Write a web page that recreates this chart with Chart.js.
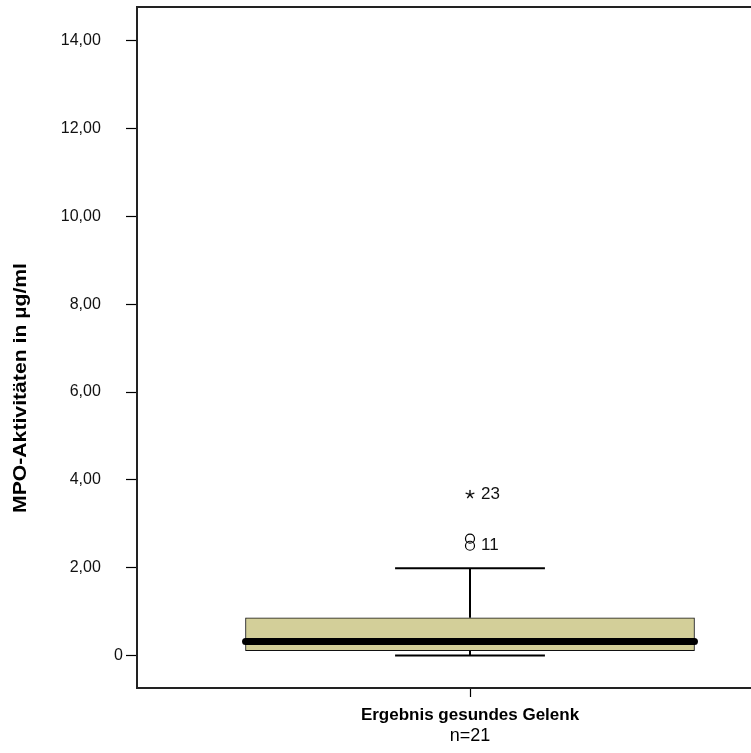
<!DOCTYPE html>
<html>
<head>
<meta charset="utf-8">
<script src="https://cdn.jsdelivr.net/npm/chart.js@4.4.0/dist/chart.umd.min.js"></script>
<style>
  html, body { margin: 0; padding: 0; background: #fff; overflow: hidden; }
  #wrap { width: 810px; height: 753px; }
</style>
</head>
<body>
<div id="wrap"><canvas id="grafico"></canvas></div>
<script>
// dados do boxplot
const categorias = ['Ergebnis gesundes Gelenk'];
const nCasos = ['n=21'];
const minimo = [0.00];
const quartil1 = [0.11];
const mediana = [0.32];
const quartil3 = [0.86];
const maximo = [1.99];
const outliersValores = [2.66, 2.50];
const outliersCasos = ['', '11'];
const extremosValores = [3.68];
const extremosCasos = ['23'];
const yTicks = [0, 2, 4, 6, 8, 10, 12, 14];
const yTickLabels = ['0', '2,00', '4,00', '6,00', '8,00', '10,00', '12,00', '14,00'];
const tituloY = 'MPO-Aktivitäten in µg/ml';

const yMin = -0.74;
const yMax = 14.77;
const meiaCaixa = 0.674;   // metade da largura da caixa (unidades do eixo x)
const meiaBarra = 0.225;   // metade da largura do traço do bigode

// estrela (asterisco) para os valores extremos
function estrela() {
    const c = document.createElement('canvas');
    c.width = 12; c.height = 12;
    const g = c.getContext('2d');
    g.strokeStyle = '#000';
    g.lineWidth = 1.3;
    for (let k = 0; k < 5; k++) {
        const a = -Math.PI / 2 + k * 2 * Math.PI / 5;
        g.beginPath();
        g.moveTo(6, 6.5);
        g.lineTo(6 + 4.6 * Math.cos(a), 6.5 + 4.6 * Math.sin(a));
        g.stroke();
    }
    return c;
}

const linha = (pts, w) => ({
    type: 'line',
    data: pts,
    borderColor: '#000',
    borderWidth: w,
    pointRadius: 0,
    fill: false,
    order: 3
});

const datasets = [];
categorias.forEach((cat, i) => {
    const x = i + 1;
    datasets.push({
        type: 'bar',
        data: [{ x: x, y: [quartil1[i], quartil3[i]] }],
        backgroundColor: '#d3cf99',
        borderColor: '#111',
        borderWidth: 1,
        borderSkipped: false,
        barThickness: 449,
        order: 5
    });
    datasets.push(linha([{ x: x, y: quartil3[i] }, { x: x, y: maximo[i] }], 2));
    datasets.push(linha([{ x: x, y: quartil1[i] }, { x: x, y: minimo[i] }], 2));
    datasets.push(linha([{ x: x - meiaBarra, y: maximo[i] }, { x: x + meiaBarra, y: maximo[i] }], 2));
    datasets.push(linha([{ x: x - meiaBarra, y: minimo[i] }, { x: x + meiaBarra, y: minimo[i] }], 2));
    const med = linha([{ x: x - meiaCaixa, y: mediana[i] }, { x: x + meiaCaixa, y: mediana[i] }], 7);
    med.borderCapStyle = 'round';
    med.order = 1;
    datasets.push(med);
    datasets.push({
        type: 'scatter',
        data: outliersValores.map(v => ({ x: x, y: v })),
        casos: outliersCasos,
        pointStyle: 'circle',
        pointRadius: 4.5,
        pointBackgroundColor: 'rgba(0,0,0,0)',
        pointBorderColor: '#000',
        pointBorderWidth: 1.2,
        order: 0
    });
    datasets.push({
        type: 'scatter',
        data: extremosValores.map(v => ({ x: x, y: v })),
        casos: extremosCasos,
        pointStyle: estrela(),
        pointRadius: 6,
        order: 0
    });
});

// rótulos dos casos ao lado dos pontos
const rotulosCasos = {
    id: 'rotulosCasos',
    afterDatasetsDraw(chart) {
        const ctx = chart.ctx;
        ctx.save();
        ctx.font = '17px "Liberation Sans", Arial, sans-serif';
        ctx.fillStyle = '#111';
        ctx.textAlign = 'left';
        ctx.textBaseline = 'middle';
        chart.data.datasets.forEach((ds, di) => {
            if (!ds.casos) return;
            chart.getDatasetMeta(di).data.forEach((el, j) => {
                if (ds.casos[j]) ctx.fillText(ds.casos[j], el.x + 11, el.y);
            });
        });
        ctx.restore();
    }
};

// moldura superior / direita e título do eixo y
const moldura = {
    id: 'moldura',
    afterDraw(chart) {
        const a = chart.chartArea;
        const ctx = chart.ctx;
        ctx.save();
        ctx.strokeStyle = '#222';
        ctx.lineWidth = 2;
        ctx.beginPath();
        ctx.moveTo(a.left, a.top);
        ctx.lineTo(a.right, a.top);
        ctx.lineTo(a.right, a.bottom);
        ctx.stroke();

        // título do eixo y, um pouco esticado como no original
        ctx.font = 'bold 18px "Liberation Sans", Arial, sans-serif';
        ctx.fillStyle = '#000';
        ctx.textAlign = 'center';
        ctx.textBaseline = 'middle';
        const w = ctx.measureText(tituloY).width;
        ctx.translate(21, 388);
        ctx.rotate(-Math.PI / 2);
        ctx.scale(250 / w, 1);
        ctx.fillText(tituloY, 0, 0);
        ctx.restore();
    }
};

Chart.defaults.font.family = '"Liberation Sans", Arial, sans-serif';
Chart.defaults.color = '#111';

new Chart(document.getElementById('grafico'), {
    type: 'bar',
    data: { datasets: datasets },
    options: {
        responsive: true,
        maintainAspectRatio: false,
        animation: false,
        layout: { autoPadding: false, padding: { left: 0, top: 7, right: 7, bottom: 0 } },
        plugins: {
            legend: { display: false },
            tooltip: { enabled: false }
        },
        scales: {
            x: {
                type: 'linear',
                offset: false,
                min: 0,
                max: categorias.length + 1,
                afterBuildTicks: (s) => { s.ticks = categorias.map((c, i) => ({ value: i + 1 })); },
                afterFit: (s) => { s.height = 65; s.paddingLeft = 0; s.paddingRight = 0; },
                ticks: {
                    autoSkip: false,
                    maxRotation: 0,
                    padding: 8,
                    color: '#000',
                    font: { size: 17, weight: 'bold' },
                    callback: (v) => categorias[v - 1]
                },
                grid: { offset: false, drawOnChartArea: false, tickLength: 9, tickColor: '#000', tickWidth: 1.2 },
                border: { display: true, color: '#222', width: 2 },
                title: {
                    display: true,
                    text: nCasos[0],
                    color: '#000',
                    font: { size: 18, weight: 'normal' },
                    padding: { top: 0, bottom: 6 }
                }
            },
            y: {
                min: yMin,
                max: yMax,
                afterBuildTicks: (s) => { s.ticks = yTicks.map(v => ({ value: v })); },
                afterFit: (s) => { s.width = 137; s.paddingTop = 0; s.paddingBottom = 0; },
                ticks: {
                    padding: 3,
                    font: { size: 16 },
                    color: '#111',
                    callback: (v) => {
                        const t = yTickLabels[yTicks.indexOf(v)];
                        return t === '0' ? t : t + '\u00a0\u00a0\u00a0\u00a0\u00a0';
                    }
                },
                grid: { drawOnChartArea: false, tickLength: 11, tickColor: '#000', tickWidth: 1.2 },
                border: { display: true, color: '#222', width: 2 },
                title: { display: false }
            }
        }
    },
    plugins: [rotulosCasos, moldura]
});
</script>
</body>
</html>
